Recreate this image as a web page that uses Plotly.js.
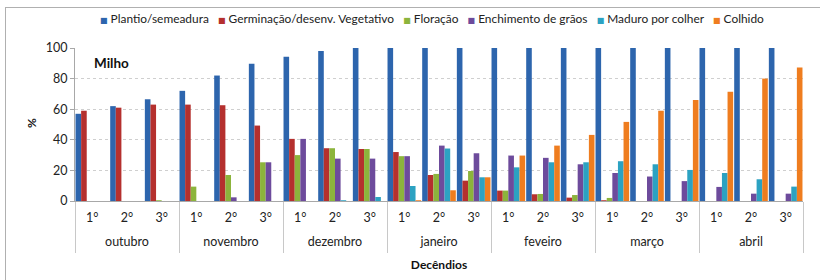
<!DOCTYPE html>
<html>
<head>
<meta charset="utf-8">
<script src="https://cdn.plot.ly/plotly-3.0.1.min.js"></script>
<style>
html,body{margin:0;padding:0;background:#fff;overflow:hidden;}
#frame{position:absolute;left:5px;top:7px;width:1000px;height:400px;border-left:1px solid #b0b0b0;border-top:1px solid #b0b0b0;}
#chart{position:absolute;left:0;top:0;width:820px;height:280px;}
</style>
</head>
<body>
<div id="frame"></div>
<div id="chart"></div>
<script>
const months = ['outubro','novembro','dezembro','janeiro','feveiro','março','abril'];
const decendios = ['1°','2°','3°'];

const seriesNames = ['Plantio/semeadura','Germinação/desenv. Vegetativo','Floração','Enchimento de grãos','Maduro por colher','Colhido'];
const plantio = [57,62,66.5, 72,82,89.7, 94.3,98,100, 100,100,100, 100,100,100, 100,100,100, 100,100,100];
const germinacao = [59,61,63, 63,62.6,49.3, 40.6,34.5,34, 32,17,13.3, 6.8,4.4,2.2, 0.5,0,0, 0,0,0];
const floracao = [0,0,0.5, 9.4,17,25.3, 30,34.5,34, 29.3,17.7,19.6, 6.8,4.6,3.9, 2,0,0, 0,0,0];
const enchimento = [0,0,0, 0,2.4,25.3, 40.6,27.7,27.7, 29.3,36.2,31.2, 29.7,28.2,24, 18.3,16,13, 9.2,4.8,4.8];
const maduro = [0,0,0, 0,0,0, 0,0.5,2.6, 9.8,34.3,15.5, 22,25.3,25.3, 26,24,20.3, 18.3,14.2,9.4];
const colhido = [0,0,0, 0,0,0, 0,0,0, 0.5,7,15.5, 29.7,36.2,43.2, 51.7,59,66, 71.4,80,87.3];
const colors = ['#2d65ad','#b5302e','#8cb43c','#6d4b9c','#2ca2c2','#ef7d1f'];

// category positions (month x decêndio)
const innerLabels = [], monthCenters = [], monthBounds = [-0.5];
months.forEach((m, mi) => {
  decendios.forEach(d => innerLabels.push(d));
  monthCenters.push(mi * decendios.length + (decendios.length - 1) / 2);
  monthBounds.push((mi + 1) * decendios.length - 0.5);
});
const idx = innerLabels.map((_, i) => i);
const xRange = [-0.5, innerLabels.length - 0.5];

const allSeries = [plantio, germinacao, floracao, enchimento, maduro, colhido];
const traces = allSeries.map((vals, i) => ({
  type: 'bar',
  name: seriesNames[i],
  x: idx,
  y: vals,
  marker: {color: colors[i], line: {width: 0}},
  hoverinfo: 'skip',
  showlegend: false
}));
// empty helper so the month axis is drawn
traces.push({type: 'scatter', x: [], y: [], xaxis: 'x2', yaxis: 'y', showlegend: false, hoverinfo: 'skip'});

const font = "Lato, 'Liberation Sans', sans-serif";

// legend line built from the series names and colours
const legendText = seriesNames.map((n, i) =>
  `<span style="color:${colors[i]};font-size:8px;font-family:'DejaVu Sans'">■</span> ${n}`
).join('&nbsp;&nbsp;&nbsp;');

const layout = {
  width: 820, height: 280,
  margin: {l: 75, r: 17, t: 48, b: 79, autoexpand: false},
  paper_bgcolor: 'rgba(0,0,0,0)',
  plot_bgcolor: 'rgba(0,0,0,0)',
  font: {family: font, size: 12, color: '#222'},
  barmode: 'group',
  bargap: 0.03,
  bargroupgap: 0,
  showlegend: false,
  xaxis: {
    type: 'linear', range: xRange, fixedrange: true,
    tickmode: 'array', tickvals: idx, ticktext: innerLabels,
    ticks: '', ticklabelstandoff: 5,
    tickfont: {family: font, size: 12.5, color: '#222'},
    showline: true, linecolor: '#a8a8a8', linewidth: 1,
    showgrid: false, zeroline: false,
    title: {text: '<b>Decêndios</b>', font: {family: font, size: 12, color: '#111'}, standoff: 36}
  },
  xaxis2: {
    type: 'linear', range: xRange, overlaying: 'x', anchor: 'y', side: 'bottom', fixedrange: true,
    tickmode: 'array', tickvals: monthCenters, ticktext: months,
    ticks: '', ticklabelstandoff: 31,
    tickfont: {family: font, size: 12.5, color: '#222'},
    minor: {tickmode: 'array', tickvals: monthBounds, ticks: 'outside', ticklen: 51, tickcolor: '#c8c8c8', tickwidth: 1, showgrid: false},
    showline: false, showgrid: false, zeroline: false
  },
  yaxis: {
    range: [0, 100], tickvals: [0,20,40,60,80,100], fixedrange: true,
    showgrid: true, gridcolor: '#cfcfcf', griddash: 'dot', gridwidth: 1,
    showline: true, linecolor: '#a8a8a8', linewidth: 1,
    ticks: 'outside', ticklen: 4, tickcolor: '#a8a8a8',
    tickfont: {family: font, size: 12.5, color: '#222'},
    zeroline: false
  },
  annotations: [
    {text: legendText, xref: 'paper', yref: 'paper', x: 0.49, y: 1.196, xanchor: 'center', yanchor: 'middle', showarrow: false, font: {family: font, size: 11.9, color: '#222'}},
    {text: '<b>Milho</b>', xref: 'paper', yref: 'paper', x: 0.024, y: 0.90, xanchor: 'left', yanchor: 'middle', showarrow: false, font: {family: font, size: 13.5, color: '#111'}},
    {text: '<b>%</b>', xref: 'paper', yref: 'paper', x: -0.059, y: 0.51, xanchor: 'center', yanchor: 'middle', textangle: -90, showarrow: false, font: {family: font, size: 12, color: '#111'}}
  ]
};

Plotly.newPlot('chart', traces, layout, {staticPlot: true, displayModeBar: false});
</script>
</body>
</html>
